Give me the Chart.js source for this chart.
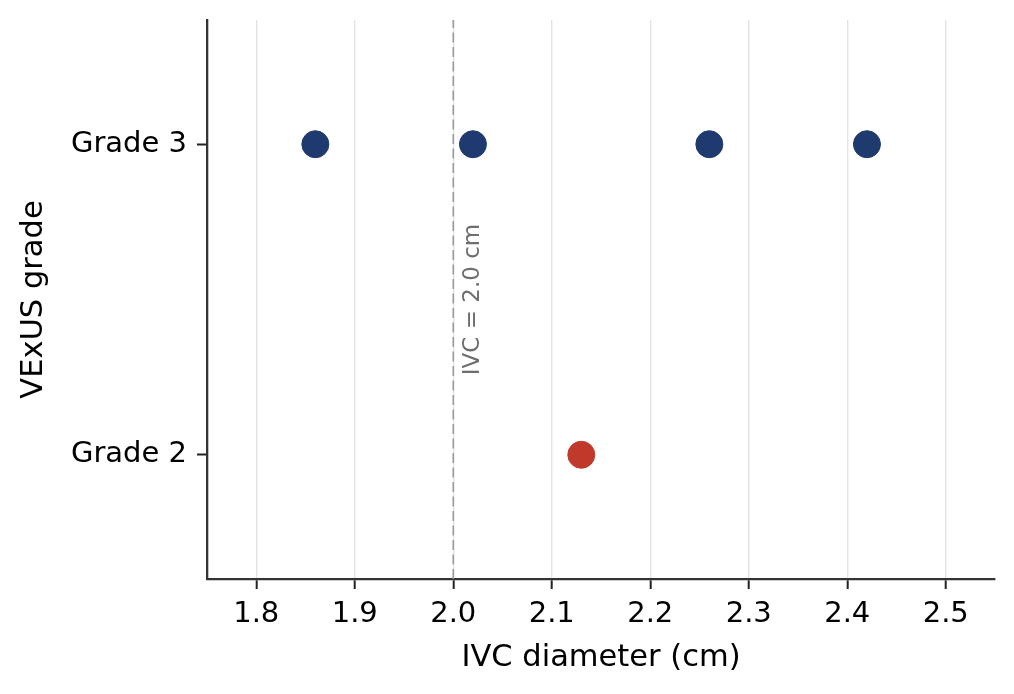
<!DOCTYPE html>
<html>
<head>
<meta charset="utf-8">
<title>IVC diameter vs VExUS grade</title>
<script src="https://cdn.jsdelivr.net/npm/chart.js@4.4.1/dist/chart.umd.min.js"></script>
<style>
    html, body { margin: 0; padding: 0; background: #ffffff; }
    #chart { display: block; }
</style>
</head>
<body>
<canvas id="chart" width="1014" height="694"></canvas>
<script>
(function () {
    'use strict';

    // ── 資料 ─────────────────────────────────────────────
    var gradeLabels = ['Grade 2', 'Grade 3'];   // y 索引 0, 1
    var grade3Ivc   = [1.86, 2.02, 2.26, 2.42];
    var grade2Ivc   = [2.13];
    var xTickValues = [1.8, 1.9, 2.0, 2.1, 2.2, 2.3, 2.4, 2.5];
    var xRange      = [1.75, 2.55];
    var yRange      = [-0.4, 1.4];
    var cutoffIvc   = 2.0;
    var cutoffText  = 'IVC = 2.0 cm';
    var cutoffTextX = 2.02;
    var cutoffTextY = 0.5;

    var FONT = "'DejaVu Sans', sans-serif";

    function toPoints(values, gradeIdx) {
        return values.map(function (v) { return { x: v, y: gradeIdx }; });
    }

    // 取消刻度標籤造成的額外邊距，讓繪圖區貼齊版面
    function noPad(s) {
        s.paddingTop = 0;
        s.paddingBottom = 0;
        s.paddingLeft = 0;
        s.paddingRight = 0;
    }

    // 直立標註文字（IVC 截點）
    var cutoffLabel = {
        id: 'cutoffLabel',
        afterDatasetsDraw: function (chart) {
            var ctx = chart.ctx;
            var px = chart.scales.x.getPixelForValue(cutoffTextX);
            var py = chart.scales.y.getPixelForValue(cutoffTextY);
            ctx.save();
            ctx.translate(px, py);
            ctx.rotate(-Math.PI / 2);
            ctx.font = '23px ' + FONT;
            ctx.fillStyle = '#6e6e6e';
            ctx.textAlign = 'center';
            ctx.textBaseline = 'middle';
            ctx.fillText(cutoffText, 0, 0);
            ctx.restore();
        }
    };

    new Chart(document.getElementById('chart').getContext('2d'), {
        type: 'scatter',
        data: {
            datasets: [{
                type: 'line',
                data: [{ x: cutoffIvc, y: yRange[0] }, { x: cutoffIvc, y: yRange[1] }],
                borderColor: '#9c9c9c',
                borderWidth: 1.6,
                borderDash: [10, 4.5],
                pointRadius: 0,
                fill: false,
                order: 3
            }, {
                label: 'Grade 3',
                data: toPoints(grade3Ivc, 1),
                backgroundColor: '#1f3a6e',
                borderColor: '#1f3a6e',
                pointRadius: 13.5,
                pointHoverRadius: 13.5,
                order: 1
            }, {
                label: 'Grade 2',
                data: toPoints(grade2Ivc, 0),
                backgroundColor: '#c0392b',
                borderColor: '#c0392b',
                pointRadius: 13.5,
                pointHoverRadius: 13.5,
                order: 1
            }]
        },
        options: {
            responsive: false,
            animation: false,
            devicePixelRatio: 1,
            layout: { padding: { top: 20, right: 19, left: 0, bottom: 0 } },
            plugins: {
                legend: { display: false },
                tooltip: { enabled: false }
            },
            scales: {
                x: {
                    type: 'linear',
                    min: xRange[0],
                    max: xRange[1],
                    afterBuildTicks: function (s) {
                        s.ticks = xTickValues.map(function (v) { return { value: v }; });
                    },
                    afterFit: function (s) { s.height = 115; noPad(s); },
                    ticks: {
                        color: '#000',
                        font: { family: FONT, size: 29 },
                        padding: 8,
                        maxRotation: 0,
                        callback: function (v) { return Number(v).toFixed(1); }
                    },
                    grid: {
                        color: '#e3e3e3',
                        lineWidth: 1.4,
                        tickColor: '#222',
                        tickLength: 10,
                        tickWidth: 2
                    },
                    border: { display: true, color: '#333', width: 2.3 },
                    title: {
                        display: true,
                        text: 'IVC diameter (cm)',
                        color: '#000',
                        font: { family: FONT, size: 30.5, lineHeight: 1.2 },
                        padding: { top: 0, bottom: 18 }
                    }
                },
                y: {
                    type: 'linear',
                    min: yRange[0],
                    max: yRange[1],
                    afterBuildTicks: function (s) {
                        s.ticks = gradeLabels.map(function (g, i) { return { value: i }; });
                    },
                    afterFit: function (s) { s.width = 207; noPad(s); },
                    ticks: {
                        color: '#000',
                        font: { family: FONT, size: 29 },
                        padding: 10,
                        callback: function (v) { return gradeLabels[v]; }
                    },
                    grid: {
                        drawOnChartArea: false,
                        tickColor: '#222',
                        tickLength: 10,
                        tickWidth: 2
                    },
                    border: { display: true, color: '#333', width: 2.3 },
                    title: {
                        display: true,
                        text: 'VExUS grade',
                        color: '#000',
                        font: { family: FONT, size: 30.5, lineHeight: 1.2 },
                        padding: { top: 16, bottom: 0 }
                    }
                }
            }
        },
        plugins: [cutoffLabel]
    });
})();
</script>
</body>
</html>
